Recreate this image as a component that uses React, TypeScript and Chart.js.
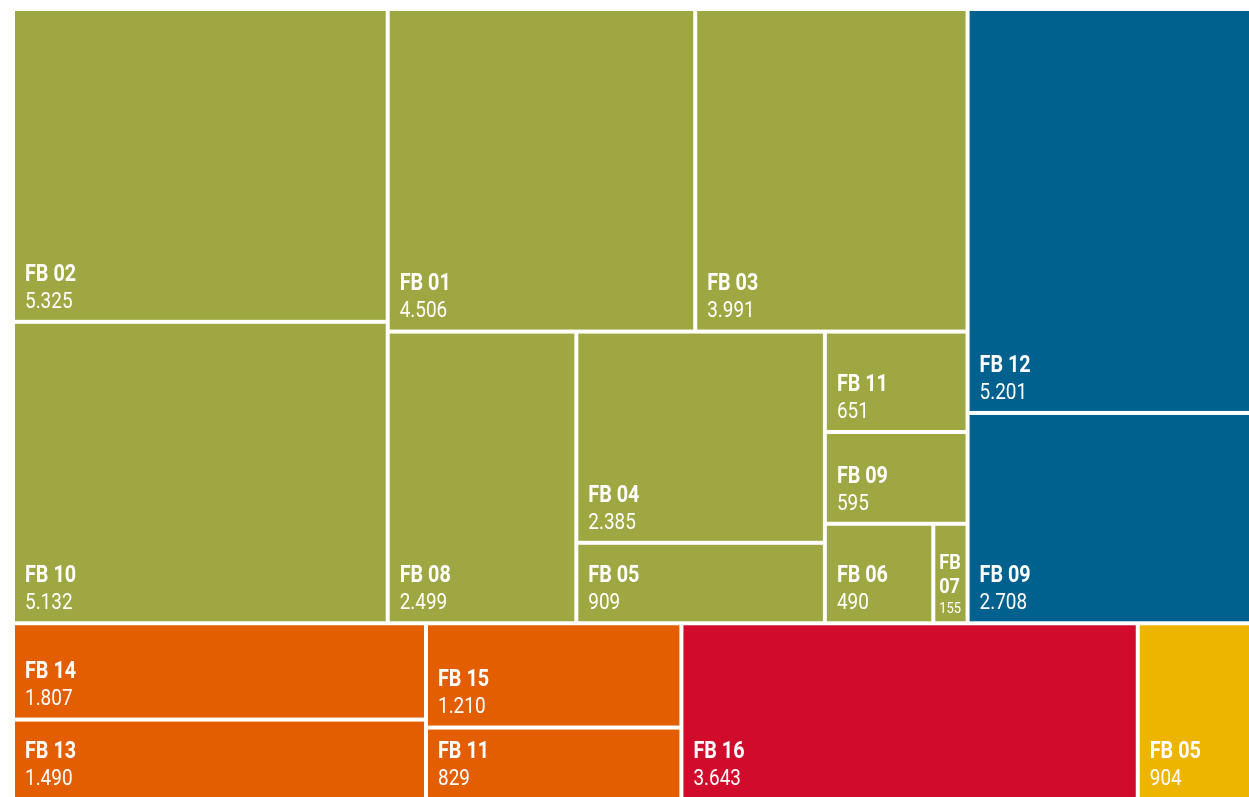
import React, { useEffect, useRef } from 'react';
import { Chart, registerables } from 'chart.js';

Chart.register(...registerables);

// ---- Data ----
const cellLabels = [
  'FB 02', 'FB 10', 'FB 01', 'FB 03', 'FB 08', 'FB 04', 'FB 05', 'FB 11', 'FB 09', 'FB 06', 'FB 07',
  'FB 12', 'FB 09',
  'FB 14', 'FB 13', 'FB 15', 'FB 11',
  'FB 16',
  'FB 05',
];
const cellValues = [
  5325, 5132, 4506, 3991, 2499, 2385, 909, 651, 595, 490, 155,
  5201, 2708,
  1807, 1490, 1210, 829,
  3643,
  904,
];
const cellGroups = [
  'green', 'green', 'green', 'green', 'green', 'green', 'green', 'green', 'green', 'green', 'green',
  'blue', 'blue',
  'orange', 'orange', 'orange', 'orange',
  'red',
  'yellow',
];
const groupColors: Record<string, string> = {
  green: '#9EA741',
  blue: '#00618F',
  orange: '#E35E00',
  red: '#D00B2B',
  yellow: '#EDB400',
};

// ---- Treemap structure (slice-and-dice nesting, indices into the arrays above) ----
type TNode = number | { dir: 'h' | 'v'; children: TNode[] };
const H = (...children: TNode[]): TNode => ({ dir: 'h', children });
const V = (...children: TNode[]): TNode => ({ dir: 'v', children });

const tree: TNode = V(
  H(
    H(V(0, 1), V(H(2, 3), H(4, V(5, 6), V(7, 8, H(9, 10))))),
    V(11, 12)
  ),
  H(V(13, 14), V(15, 16), 17, 18)
);

function sumNode(n: TNode): number {
  if (typeof n === 'number') return cellValues[n];
  return n.children.reduce((s, c) => s + sumNode(c), 0);
}

type Rect = { i: number; x0: number; y0: number; x1: number; y1: number };

function layout(n: TNode, x0: number, y0: number, x1: number, y1: number, out: Rect[]) {
  if (typeof n === 'number') {
    out.push({ i: n, x0, y0, x1, y1 });
    return;
  }
  const total = sumNode(n);
  let pos = n.dir === 'h' ? x0 : y0;
  n.children.forEach((c) => {
    const f = sumNode(c) / total;
    if (n.dir === 'h') {
      const w = (x1 - x0) * f;
      layout(c, pos, y0, pos + w, y1, out);
      pos += w;
    } else {
      const h = (y1 - y0) * f;
      layout(c, x0, pos, x1, pos + h, out);
      pos += h;
    }
  });
}

const rects: Rect[] = [];
layout(tree, 0, 0, 1, 1, rects);
rects.sort((a, b) => a.i - b.i);

function fmt(v: number): string {
  return String(v).replace(/\B(?=(\d{3})+(?!\d))/g, '.');
}

const FONT = 'Roboto, "Liberation Sans", sans-serif';
const SX = 0.86; // horizontal condensing of the label font
const GAP = 4;

const treemapPlugin = {
  id: 'treemapCells',
  afterDatasetsDraw(chart: any) {
    const ctx: CanvasRenderingContext2D = chart.ctx;
    const xs = chart.scales.x;
    const ys = chart.scales.y;
    const mw = (t: string) => ctx.measureText(t).width * SX;
    const draw = (t: string, x: number, y: number) => {
      ctx.save();
      ctx.translate(x, y);
      ctx.scale(SX, 1);
      ctx.fillText(t, 0, 0);
      ctx.restore();
    };
    ctx.save();
    rects.forEach((r) => {
      const px0 = xs.getPixelForValue(r.x0) + GAP / 2;
      const px1 = xs.getPixelForValue(r.x1) - GAP / 2;
      const py0 = ys.getPixelForValue(r.y0) + GAP / 2;
      const py1 = ys.getPixelForValue(r.y1) - GAP / 2;
      ctx.fillStyle = groupColors[cellGroups[r.i]];
      ctx.fillRect(px0, py0, px1 - px0, py1 - py0);

      const w = px1 - px0;
      const pad = Math.min(10, w * 0.13);
      const avail = w - 2 * pad;
      let nameFont = 23;
      let lines = [cellLabels[r.i]];
      ctx.font = `bold ${nameFont}px ${FONT}`;
      if (mw(lines[0]) > avail) {
        lines = cellLabels[r.i].split(' ');
        let maxW = Math.max(...lines.map((l) => mw(l)));
        while (maxW > avail && nameFont > 8) {
          nameFont -= 1;
          ctx.font = `bold ${nameFont}px ${FONT}`;
          maxW = Math.max(...lines.map((l) => mw(l)));
        }
      }
      const valText = fmt(cellValues[r.i]);
      let valFont = 22;
      ctx.font = `${valFont}px ${FONT}`;
      while (mw(valText) > avail && valFont > 8) {
        valFont -= 1;
        ctx.font = `${valFont}px ${FONT}`;
      }
      const valBase = py1 - Math.max(8, valFont * 0.55);
      ctx.fillStyle = '#ffffff';
      ctx.textAlign = 'left';
      ctx.textBaseline = 'alphabetic';
      draw(valText, px0 + pad, valBase);
      ctx.font = `bold ${nameFont}px ${FONT}`;
      let base = valBase - (valFont + 5);
      for (let k = lines.length - 1; k >= 0; k--) {
        draw(lines[k], px0 + pad, base);
        base -= nameFont * 1.15;
      }
    });
    ctx.restore();
  },
};

export default function App() {
  const canvasRef = useRef<HTMLCanvasElement | null>(null);

  useEffect(() => {
    if (!canvasRef.current) return;
    const chart = new Chart(canvasRef.current, {
      type: 'scatter',
      data: {
        datasets: [
          {
            label: 'Cells',
            data: rects.map((r) => ({ x: (r.x0 + r.x1) / 2, y: (r.y0 + r.y1) / 2 })),
            pointRadius: 0,
            pointHoverRadius: 0,
          },
        ],
      },
      options: {
        animation: false,
        responsive: true,
        maintainAspectRatio: false,
        layout: { padding: { left: 13, top: 9, right: 0, bottom: 0 } },
        plugins: { legend: { display: false }, tooltip: { enabled: false } },
        scales: {
          x: { type: 'linear', min: 0, max: 1, display: false },
          y: { type: 'linear', min: 0, max: 1, reverse: true, display: false },
        },
      },
      plugins: [treemapPlugin],
    });
    return () => chart.destroy();
  }, []);

  return (
    <div style={{ position: 'absolute', left: 0, top: 0, width: 1249, height: 797, overflow: 'hidden', background: '#fff' }}>
      <div style={{ position: 'relative', width: 1251, height: 799 }}>
        <canvas ref={canvasRef} />
      </div>
    </div>
  );
}
